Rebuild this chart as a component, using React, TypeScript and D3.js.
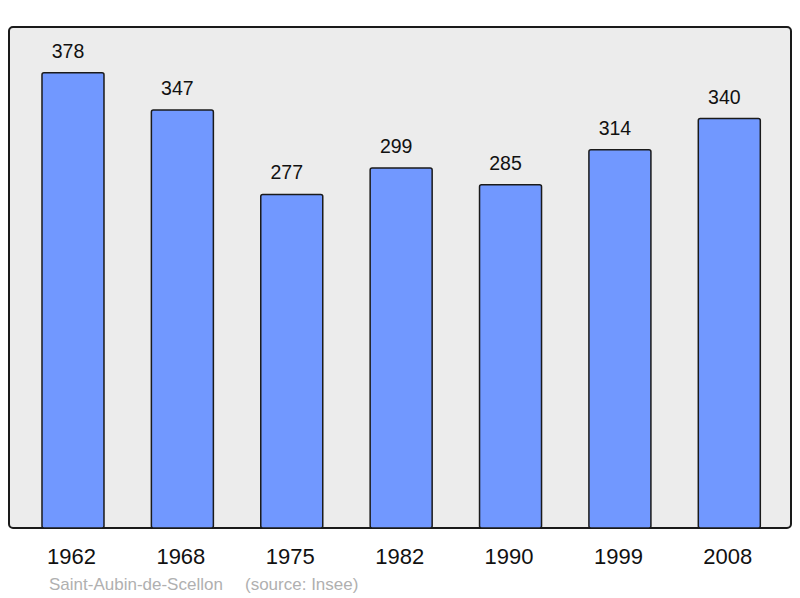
import React from "react";
import * as d3 from "d3";

const years = ["1962", "1968", "1975", "1982", "1990", "1999", "2008"];
const population = [378, 347, 277, 299, 285, 314, 340];
const commune = "Saint-Aubin-de-Scellon";
const source = "(source: Insee)";

export default function App() {
  const W = 800, H = 598;
  const panel = { x: 9, y: 27, w: 782, h: 501 };
  const x = d3.scaleBand<string>().domain(years).range([18.3, 784]).padding(0);
  const y = d3.scaleLinear().domain([0, 416]).range([528, 27]);
  const barW = 62;
  return (
    <svg width={W} height={H} style={{ position: "absolute", left: 0, top: 0 }}
      fontFamily="'Liberation Sans', Arial, sans-serif">
      <rect x={panel.x} y={panel.y} width={panel.w} height={panel.h} rx={4} ry={4}
        fill="#ececec" stroke="#1a1a1a" strokeWidth={2} />
      {years.map((yr, i) => {
        const cx = (x(yr) as number) + x.bandwidth() / 2;
        const top = y(population[i]);
        return (
          <g key={yr}>
            <rect x={cx - barW / 2} y={top} width={barW} height={y(0) - top} rx={2} ry={2}
              fill="#7198ff" stroke="#1a1a1a" strokeWidth={1.5} />
            <text x={cx - 5} y={top - 15} textAnchor="middle" fontSize={19.5} fill="#111">{population[i]}</text>
            <text x={cx - 1.5} y={564} textAnchor="middle" fontSize={22} fill="#111">{yr}</text>
          </g>
        );
      })}
      <text x={49} y={590} fontSize={17} fill="#b0b0b0">{commune}</text>
      <text x={245} y={590} fontSize={17} fill="#b0b0b0">{source}</text>
    </svg>
  );
}
